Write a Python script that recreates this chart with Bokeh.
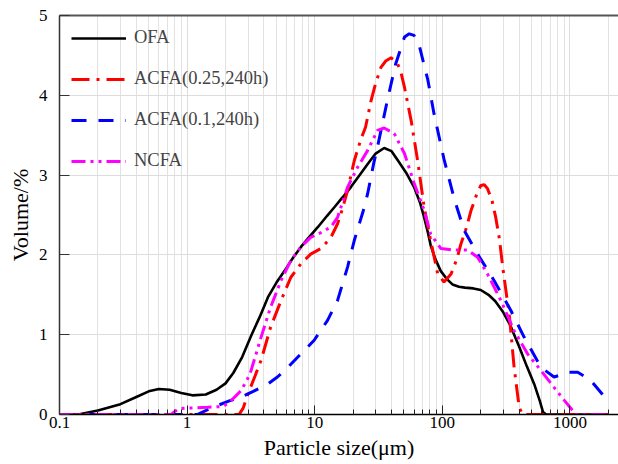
from bokeh.plotting import figure
from bokeh.models import FixedTicker, LogAxis, Legend, LegendItem
from bokeh.embed import file_html
from bokeh.resources import INLINE

# ---------------- data ----------------
ofa_x = [0.1, 0.14, 0.2, 0.3, 0.4, 0.5, 0.6, 0.73, 0.9, 1.1, 1.4, 1.7, 2.0, 2.3, 2.7,
         3.2, 3.7, 4.3, 5.0, 5.8, 6.8, 7.8, 9.0, 10.6, 12.5, 14.3, 16.5, 19.2, 22.5, 26,
         30, 35, 40, 45, 52, 60, 67, 72, 77, 81, 88, 97, 108, 120, 135, 150, 175, 200,
         230, 260, 300, 340, 400, 460, 525, 580, 615, 650, 2000]
ofa_y = [0, 0, 0.05, 0.13, 0.22, 0.29, 0.32, 0.31, 0.27, 0.24, 0.25, 0.31, 0.39, 0.52, 0.72,
         1.0, 1.22, 1.47, 1.65, 1.80, 1.97, 2.10, 2.22, 2.35, 2.49, 2.60, 2.72, 2.85, 3.0, 3.14,
         3.27, 3.34, 3.30, 3.18, 3.03, 2.85, 2.65, 2.47, 2.28, 2.12, 1.95, 1.80, 1.70, 1.63, 1.60, 1.59, 1.58, 1.56,
         1.50, 1.42, 1.28, 1.12, 0.85, 0.60, 0.38, 0.17, 0.03, 0, 0]

acfa025_x = [0.1, 2.55, 2.75, 3.0, 3.4, 3.8, 4.5, 5.45, 6.5, 7.8, 9.3, 11.2, 13.4, 15.1, 16.5,
             18.1, 20.4, 23, 25, 27.6, 30, 33, 36, 39.6, 42, 44.7, 47.5, 50.5, 57, 64, 72, 81,
             92, 103, 117, 130, 140, 155, 168, 185, 200, 213, 226, 245, 262, 280, 297, 336,
             365, 400, 425, 2000]
acfa025_y = [0, 0, 0.08, 0.26, 0.48, 0.68, 1.09, 1.43, 1.72, 1.89, 2.01, 2.08, 2.22, 2.39, 2.58,
             2.81, 3.18, 3.45, 3.6, 3.93, 4.15, 4.35, 4.43, 4.47, 4.44, 4.39, 4.28, 4.10, 3.68, 3.18, 2.6, 2.18,
             1.76, 1.66, 1.76, 1.95, 2.14, 2.35, 2.56, 2.75, 2.87, 2.88, 2.83, 2.68, 2.47, 2.2, 1.85, 1.22,
             0.59, 0.09, 0, 0]

acfa01_x = [0.1, 1.2, 1.59, 2.14, 2.65, 3.3, 4.28, 5.1, 6.15, 7.8, 9.9, 12.6, 15.1, 18.1, 20.4,
            24.5, 26, 29, 31, 37, 43, 50.5, 55, 60, 66, 77, 86, 103, 124, 148, 189, 254, 345,
            437, 593, 750, 870, 960, 1150, 1450, 1780, 1900]
acfa01_y = [0, 0, 0.09, 0.17, 0.22, 0.29, 0.38, 0.47, 0.59, 0.76, 0.93, 1.18, 1.43, 1.85, 2.18,
            2.6, 2.77, 3.15, 3.35, 3.93, 4.39, 4.73, 4.77, 4.75, 4.62, 4.19, 3.77, 3.2, 2.7, 2.31, 2.01, 1.68, 1.30,
            0.97, 0.59, 0.47, 0.5, 0.53, 0.53, 0.43, 0.26, 0.2]

ncfa_x = [0.1, 0.75, 0.85, 1.0, 1.45, 1.9, 2.14, 2.65, 3.1, 3.5, 3.8, 4.5, 5.45, 6.5, 7.8, 9.3,
          11.2, 13.4, 15.1, 18.1, 21.7, 26, 31, 35, 42, 50.5, 60, 72, 81, 97.5, 124, 158, 189,
          226, 287, 365, 465, 593, 750, 900, 1050, 1100, 2000]
ncfa_y = [0, 0, 0.07, 0.08, 0.09, 0.1, 0.15, 0.30, 0.50, 0.78, 0.97, 1.34, 1.68, 1.93, 2.10, 2.22,
          2.28, 2.35, 2.47, 2.85, 3.10, 3.31, 3.56, 3.59, 3.52, 3.27, 2.9, 2.56, 2.26, 2.08, 2.06, 2.06, 1.97,
          1.76, 1.43, 1.05, 0.76, 0.55, 0.34, 0.18, 0.05, 0, 0]

series_names = ["OFA", "ACFA(0.25,240h)", "ACFA(0.1,240h)", "NCFA"]
x_ticks = [0.1, 1, 10, 100, 1000]
x_tick_labels = ["0.1", "1", "10", "100", "1000"]
y_ticks = [0, 1, 2, 3, 4, 5]

FONT = "Liberation Serif"

p = figure(width=618, height=464, x_axis_type="log", x_range=(0.1, 2400), y_range=(0, 5),
           output_backend="svg", toolbar_location=None,
           min_border_left=59, min_border_right=0, min_border_top=15, min_border_bottom=50)
p.outline_line_color = None
p.background_fill_color = "white"
p.border_fill_color = "white"

minor = [k * 10.0 ** d for d in range(-1, 4) for k in range(2, 10) if k * 10.0 ** d <= 2400]
p.xaxis.ticker = FixedTicker(ticks=x_ticks, minor_ticks=minor)
p.xaxis.major_label_overrides = {t: l for t, l in zip(x_ticks, x_tick_labels)}
p.yaxis.ticker = FixedTicker(ticks=y_ticks)

for ax in (p.xaxis[0], p.yaxis[0]):
    ax.major_label_text_font = FONT
    ax.major_label_text_font_size = "17px"
    ax.major_label_text_color = "black"
    ax.axis_label_text_font = FONT
    ax.axis_label_text_font_size = "22px"
    ax.axis_label_text_font_style = "normal"
    ax.axis_label_text_color = "black"
    ax.major_tick_out = 0
    ax.minor_tick_out = 0
    ax.axis_line_width = 1.5

p.xaxis.axis_label = "Particle size(μm)"
p.xaxis.axis_line_color = "black"
p.xaxis.major_tick_in = 9
p.xaxis.minor_tick_in = 5
p.xaxis.major_tick_line_color = "#222222"
p.xaxis.minor_tick_line_color = "#222222"
p.xaxis.major_label_standoff = 2
p.xaxis.axis_label_standoff = 4

p.yaxis.axis_label = "Volume/%"
p.yaxis.axis_line_color = "#333333"
p.yaxis.major_tick_in = 10
p.yaxis.minor_tick_line_color = None
p.yaxis.major_tick_line_color = "#333333"
p.yaxis.major_label_standoff = 12
p.yaxis.axis_label_standoff = 3

top = LogAxis(ticker=FixedTicker(ticks=[]), major_label_text_font_size="0px",
              major_label_standoff=0, major_tick_out=0, minor_tick_out=0,
              axis_line_color="#555555", axis_line_width=2)
p.add_layout(top, "above")

p.xgrid.grid_line_color = "#dddddd"
p.xgrid.minor_grid_line_color = "#e2e2e2"
p.ygrid.grid_line_color = "#dddddd"

r1 = p.line(ofa_x, ofa_y, line_color="black", line_width=2.6)
r2 = p.line(acfa025_x, acfa025_y, line_color="#ff0000", line_width=3, line_dash="18 7 3 7")
r3 = p.line(acfa01_x, acfa01_y, line_color="#0000ff", line_width=3, line_dash="15 12")
r4 = p.line(ncfa_x, ncfa_y, line_color="#ff00ff", line_width=3, line_dash="14 5 3 5 3 5")

legend = Legend(items=[LegendItem(label=n, renderers=[r]) for n, r in zip(series_names, [r1, r2, r3, r4])],
                location="top_left", margin=12, padding=0, spacing=20,
                glyph_width=55, glyph_height=20, label_height=20, label_standoff=8,
                label_text_font=FONT, label_text_font_size="18.5px",
                background_fill_alpha=0, border_line_color=None)
p.add_layout(legend)

open("out.html", "w").write(file_html(p, INLINE))
